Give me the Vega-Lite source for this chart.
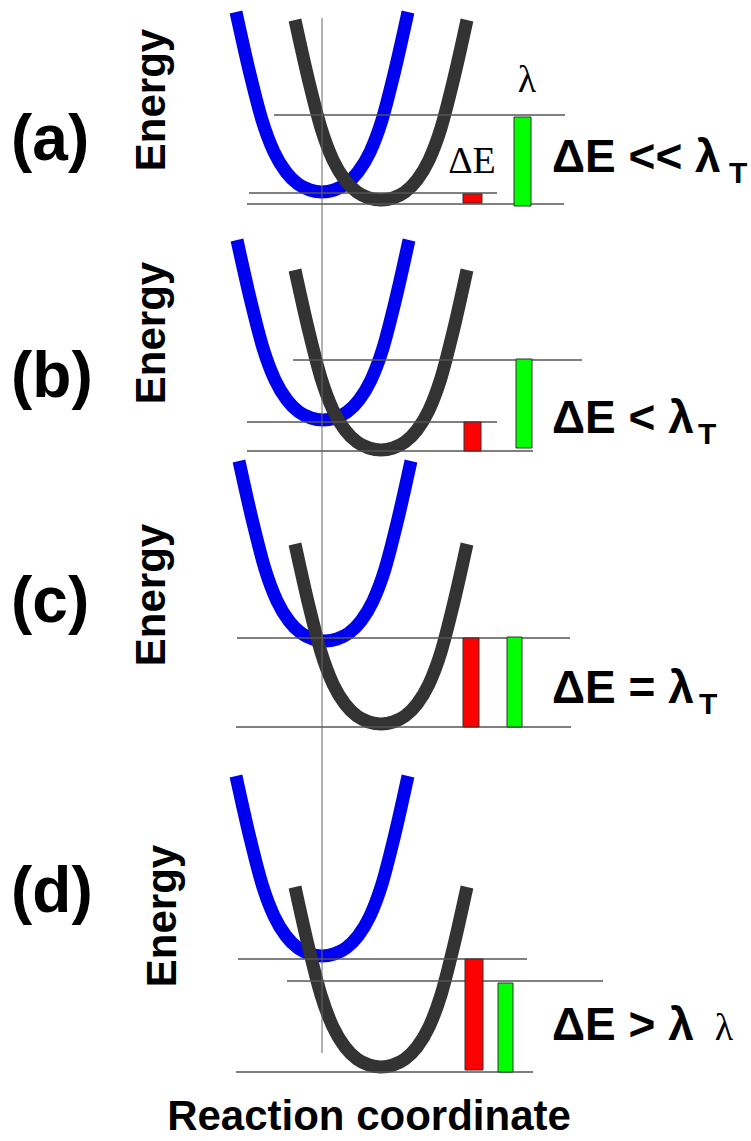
{
  "$schema": "https://vega.github.io/schema/vega-lite/v6.json",
  "width": 751,
  "height": 1141,
  "autosize": {"type": "none"},
  "padding": 0,
  "background": "white",
  "config": {"view": {"stroke": null}},
  "datasets": {
    "curves": [
      {"panel": "a", "surface": "initial", "x": 236, "y": 12},
      {"panel": "a", "surface": "initial", "x": 250, "y": 74},
      {"panel": "a", "surface": "initial", "x": 262, "y": 120},
      {"panel": "a", "surface": "initial", "x": 274, "y": 152},
      {"panel": "a", "surface": "initial", "x": 286, "y": 172},
      {"panel": "a", "surface": "initial", "x": 298, "y": 184},
      {"panel": "a", "surface": "initial", "x": 310, "y": 190},
      {"panel": "a", "surface": "initial", "x": 322, "y": 192},
      {"panel": "a", "surface": "initial", "x": 334, "y": 190},
      {"panel": "a", "surface": "initial", "x": 346, "y": 184},
      {"panel": "a", "surface": "initial", "x": 358, "y": 172},
      {"panel": "a", "surface": "initial", "x": 370, "y": 152},
      {"panel": "a", "surface": "initial", "x": 382, "y": 120},
      {"panel": "a", "surface": "initial", "x": 394, "y": 74},
      {"panel": "a", "surface": "initial", "x": 408, "y": 12},
      {"panel": "a", "surface": "final", "x": 295, "y": 20},
      {"panel": "a", "surface": "final", "x": 309, "y": 82},
      {"panel": "a", "surface": "final", "x": 321, "y": 128},
      {"panel": "a", "surface": "final", "x": 333, "y": 160},
      {"panel": "a", "surface": "final", "x": 345, "y": 180},
      {"panel": "a", "surface": "final", "x": 357, "y": 192},
      {"panel": "a", "surface": "final", "x": 369, "y": 198},
      {"panel": "a", "surface": "final", "x": 381, "y": 200},
      {"panel": "a", "surface": "final", "x": 393, "y": 198},
      {"panel": "a", "surface": "final", "x": 405, "y": 192},
      {"panel": "a", "surface": "final", "x": 417, "y": 180},
      {"panel": "a", "surface": "final", "x": 429, "y": 160},
      {"panel": "a", "surface": "final", "x": 441, "y": 128},
      {"panel": "a", "surface": "final", "x": 453, "y": 82},
      {"panel": "a", "surface": "final", "x": 467, "y": 20},
      {"panel": "b", "surface": "initial", "x": 237, "y": 240},
      {"panel": "b", "surface": "initial", "x": 251, "y": 302},
      {"panel": "b", "surface": "initial", "x": 263, "y": 348},
      {"panel": "b", "surface": "initial", "x": 275, "y": 380},
      {"panel": "b", "surface": "initial", "x": 287, "y": 400},
      {"panel": "b", "surface": "initial", "x": 299, "y": 412},
      {"panel": "b", "surface": "initial", "x": 311, "y": 418},
      {"panel": "b", "surface": "initial", "x": 323, "y": 420},
      {"panel": "b", "surface": "initial", "x": 335, "y": 418},
      {"panel": "b", "surface": "initial", "x": 347, "y": 412},
      {"panel": "b", "surface": "initial", "x": 359, "y": 400},
      {"panel": "b", "surface": "initial", "x": 371, "y": 380},
      {"panel": "b", "surface": "initial", "x": 383, "y": 348},
      {"panel": "b", "surface": "initial", "x": 395, "y": 302},
      {"panel": "b", "surface": "initial", "x": 409, "y": 240},
      {"panel": "b", "surface": "final", "x": 295, "y": 270},
      {"panel": "b", "surface": "final", "x": 309, "y": 332},
      {"panel": "b", "surface": "final", "x": 321, "y": 378},
      {"panel": "b", "surface": "final", "x": 333, "y": 410},
      {"panel": "b", "surface": "final", "x": 345, "y": 430},
      {"panel": "b", "surface": "final", "x": 357, "y": 442},
      {"panel": "b", "surface": "final", "x": 369, "y": 448},
      {"panel": "b", "surface": "final", "x": 381, "y": 450},
      {"panel": "b", "surface": "final", "x": 393, "y": 448},
      {"panel": "b", "surface": "final", "x": 405, "y": 442},
      {"panel": "b", "surface": "final", "x": 417, "y": 430},
      {"panel": "b", "surface": "final", "x": 429, "y": 410},
      {"panel": "b", "surface": "final", "x": 441, "y": 378},
      {"panel": "b", "surface": "final", "x": 453, "y": 332},
      {"panel": "b", "surface": "final", "x": 467, "y": 270},
      {"panel": "c", "surface": "initial", "x": 239, "y": 461},
      {"panel": "c", "surface": "initial", "x": 253, "y": 523},
      {"panel": "c", "surface": "initial", "x": 265, "y": 569},
      {"panel": "c", "surface": "initial", "x": 277, "y": 601},
      {"panel": "c", "surface": "initial", "x": 289, "y": 621},
      {"panel": "c", "surface": "initial", "x": 301, "y": 633},
      {"panel": "c", "surface": "initial", "x": 313, "y": 639},
      {"panel": "c", "surface": "initial", "x": 325, "y": 641},
      {"panel": "c", "surface": "initial", "x": 337, "y": 639},
      {"panel": "c", "surface": "initial", "x": 349, "y": 633},
      {"panel": "c", "surface": "initial", "x": 361, "y": 621},
      {"panel": "c", "surface": "initial", "x": 373, "y": 601},
      {"panel": "c", "surface": "initial", "x": 385, "y": 569},
      {"panel": "c", "surface": "initial", "x": 397, "y": 523},
      {"panel": "c", "surface": "initial", "x": 411, "y": 461},
      {"panel": "c", "surface": "final", "x": 295, "y": 544},
      {"panel": "c", "surface": "final", "x": 309, "y": 606},
      {"panel": "c", "surface": "final", "x": 321, "y": 652},
      {"panel": "c", "surface": "final", "x": 333, "y": 684},
      {"panel": "c", "surface": "final", "x": 345, "y": 704},
      {"panel": "c", "surface": "final", "x": 357, "y": 716},
      {"panel": "c", "surface": "final", "x": 369, "y": 722},
      {"panel": "c", "surface": "final", "x": 381, "y": 724},
      {"panel": "c", "surface": "final", "x": 393, "y": 722},
      {"panel": "c", "surface": "final", "x": 405, "y": 716},
      {"panel": "c", "surface": "final", "x": 417, "y": 704},
      {"panel": "c", "surface": "final", "x": 429, "y": 684},
      {"panel": "c", "surface": "final", "x": 441, "y": 652},
      {"panel": "c", "surface": "final", "x": 453, "y": 606},
      {"panel": "c", "surface": "final", "x": 467, "y": 544},
      {"panel": "d", "surface": "initial", "x": 236, "y": 776},
      {"panel": "d", "surface": "initial", "x": 250, "y": 838},
      {"panel": "d", "surface": "initial", "x": 262, "y": 884},
      {"panel": "d", "surface": "initial", "x": 274, "y": 916},
      {"panel": "d", "surface": "initial", "x": 286, "y": 936},
      {"panel": "d", "surface": "initial", "x": 298, "y": 948},
      {"panel": "d", "surface": "initial", "x": 310, "y": 954},
      {"panel": "d", "surface": "initial", "x": 322, "y": 956},
      {"panel": "d", "surface": "initial", "x": 334, "y": 954},
      {"panel": "d", "surface": "initial", "x": 346, "y": 948},
      {"panel": "d", "surface": "initial", "x": 358, "y": 936},
      {"panel": "d", "surface": "initial", "x": 370, "y": 916},
      {"panel": "d", "surface": "initial", "x": 382, "y": 884},
      {"panel": "d", "surface": "initial", "x": 394, "y": 838},
      {"panel": "d", "surface": "initial", "x": 408, "y": 776},
      {"panel": "d", "surface": "final", "x": 295, "y": 887},
      {"panel": "d", "surface": "final", "x": 309, "y": 949},
      {"panel": "d", "surface": "final", "x": 321, "y": 995},
      {"panel": "d", "surface": "final", "x": 333, "y": 1027},
      {"panel": "d", "surface": "final", "x": 345, "y": 1047},
      {"panel": "d", "surface": "final", "x": 357, "y": 1059},
      {"panel": "d", "surface": "final", "x": 369, "y": 1065},
      {"panel": "d", "surface": "final", "x": 381, "y": 1067},
      {"panel": "d", "surface": "final", "x": 393, "y": 1065},
      {"panel": "d", "surface": "final", "x": 405, "y": 1059},
      {"panel": "d", "surface": "final", "x": 417, "y": 1047},
      {"panel": "d", "surface": "final", "x": 429, "y": 1027},
      {"panel": "d", "surface": "final", "x": 441, "y": 995},
      {"panel": "d", "surface": "final", "x": 453, "y": 949},
      {"panel": "d", "surface": "final", "x": 467, "y": 887}
    ],
    "levels": [
      {"panel": "a", "x": 274, "x2": 565, "y": 115},
      {"panel": "a", "x": 249, "x2": 497, "y": 193},
      {"panel": "a", "x": 247, "x2": 564, "y": 204},
      {"panel": "b", "x": 293, "x2": 582, "y": 360},
      {"panel": "b", "x": 247, "x2": 497, "y": 422},
      {"panel": "b", "x": 247, "x2": 533, "y": 451},
      {"panel": "c", "x": 237, "x2": 570, "y": 638},
      {"panel": "c", "x": 236, "x2": 571, "y": 727},
      {"panel": "d", "x": 238, "x2": 527, "y": 959},
      {"panel": "d", "x": 287, "x2": 603, "y": 981},
      {"panel": "d", "x": 236, "x2": 533, "y": 1072}
    ],
    "bars": [
      {"panel": "a", "quantity": "dE", "x": 463, "x2": 482, "y": 194, "y2": 203},
      {"panel": "a", "quantity": "lambda", "x": 514, "x2": 531, "y": 117, "y2": 206},
      {"panel": "b", "quantity": "dE", "x": 464, "x2": 481, "y": 422, "y2": 451},
      {"panel": "b", "quantity": "lambda", "x": 516, "x2": 532, "y": 359, "y2": 448},
      {"panel": "c", "quantity": "dE", "x": 463, "x2": 479, "y": 638, "y2": 727},
      {"panel": "c", "quantity": "lambda", "x": 507, "x2": 522, "y": 637, "y2": 727},
      {"panel": "d", "quantity": "dE", "x": 465, "x2": 483, "y": 959, "y2": 1070},
      {"panel": "d", "quantity": "lambda", "x": 498, "x2": 513, "y": 983, "y2": 1072}
    ],
    "labels": [
      {"role": "panel", "text": "(a)", "x": 11, "y": 160},
      {"role": "panel", "text": "(b)", "x": 11, "y": 397},
      {"role": "panel", "text": "(c)", "x": 11, "y": 622},
      {"role": "panel", "text": "(d)", "x": 11, "y": 912},
      {"role": "energy", "text": "Energy", "x": 152, "y": 100},
      {"role": "energy", "text": "Energy", "x": 152, "y": 333},
      {"role": "energy", "text": "Energy", "x": 152, "y": 595},
      {"role": "energy", "text": "Energy", "x": 163, "y": 916},
      {"role": "relation", "text": "ΔE << λ", "x": 552, "y": 172},
      {"role": "relation", "text": "ΔE < λ", "x": 552, "y": 433},
      {"role": "relation", "text": "ΔE = λ", "x": 552, "y": 703},
      {"role": "relation", "text": "ΔE > λ", "x": 552, "y": 1040},
      {"role": "sub", "text": "T", "x": 729, "y": 183},
      {"role": "sub", "text": "T", "x": 698, "y": 444},
      {"role": "sub", "text": "T", "x": 699, "y": 714},
      {"role": "serif", "text": "ΔE", "x": 472, "y": 173},
      {"role": "serif", "text": "λ", "x": 527, "y": 92},
      {"role": "serif", "text": "λ", "x": 724, "y": 1040},
      {"role": "axis", "text": "Reaction coordinate", "x": 369, "y": 1130}
    ]
  },
  "layer": [
    {
      "data": {"name": "curves"},
      "transform": [{"filter": "datum.surface === 'initial'"}],
      "mark": {"type": "line", "strokeWidth": 13, "interpolate": "monotone", "color": "#0000f0"},
      "encoding": {
        "x": {"field": "x", "type": "quantitative", "scale": {"domain": [0, 751], "nice": false, "zero": false}, "axis": null},
        "y": {"field": "y", "type": "quantitative", "scale": {"domain": [0, 1141], "nice": false, "reverse": true}, "axis": null},
        "detail": {"field": "panel"}
      }
    },
    {
      "data": {"name": "curves"},
      "transform": [{"filter": "datum.surface === 'final'"}],
      "mark": {"type": "line", "strokeWidth": 13, "interpolate": "monotone", "color": "#333333"},
      "encoding": {
        "x": {"field": "x", "type": "quantitative", "scale": {"domain": [0, 751], "nice": false, "zero": false}, "axis": null},
        "y": {"field": "y", "type": "quantitative", "scale": {"domain": [0, 1141], "nice": false, "reverse": true}, "axis": null},
        "detail": {"field": "panel"}
      }
    },
    {
      "data": {"name": "levels"},
      "mark": {"type": "rule", "color": "#555555", "strokeWidth": 1.4},
      "encoding": {
        "x": {"field": "x", "type": "quantitative", "scale": {"domain": [0, 751], "nice": false, "zero": false}, "axis": null},
        "x2": {"field": "x2"},
        "y": {"field": "y", "type": "quantitative", "scale": {"domain": [0, 1141], "nice": false, "reverse": true}, "axis": null}
      }
    },
    {
      "data": {"values": [{"x": 322, "y": 18, "y2": 1053}]},
      "mark": {"type": "rule", "color": "#666666", "strokeWidth": 1},
      "encoding": {
        "x": {"field": "x", "type": "quantitative", "scale": {"domain": [0, 751], "nice": false, "zero": false}, "axis": null},
        "y": {"field": "y", "type": "quantitative", "scale": {"domain": [0, 1141], "nice": false, "reverse": true}, "axis": null},
        "y2": {"field": "y2"}
      }
    },
    {
      "data": {"name": "bars"},
      "mark": {"type": "rect", "stroke": "#333333", "strokeWidth": 1},
      "encoding": {
        "x": {"field": "x", "type": "quantitative", "scale": {"domain": [0, 751], "nice": false, "zero": false}, "axis": null},
        "x2": {"field": "x2"},
        "y": {"field": "y", "type": "quantitative", "scale": {"domain": [0, 1141], "nice": false, "reverse": true}, "axis": null},
        "y2": {"field": "y2"},
        "fill": {"field": "quantity", "type": "nominal", "scale": {"domain": ["dE", "lambda"], "range": ["#ff0000", "#00ff00"]}, "legend": null}
      }
    },
    {
      "data": {"name": "labels"},
      "transform": [{"filter": "datum.role === 'panel'"}],
      "mark": {"type": "text", "font": "Liberation Sans", "fontWeight": "bold", "fontSize": 64, "align": "left", "baseline": "alphabetic", "color": "black"},
      "encoding": {
        "x": {"field": "x", "type": "quantitative", "scale": {"domain": [0, 751], "nice": false, "zero": false}, "axis": null},
        "y": {"field": "y", "type": "quantitative", "scale": {"domain": [0, 1141], "nice": false, "reverse": true}, "axis": null},
        "text": {"field": "text"}
      }
    },
    {
      "data": {"name": "labels"},
      "transform": [{"filter": "datum.role === 'energy'"}],
      "mark": {"type": "text", "font": "Liberation Sans", "fontWeight": "bold", "fontSize": 42, "angle": 270, "align": "center", "baseline": "middle", "color": "black"},
      "encoding": {
        "x": {"field": "x", "type": "quantitative", "scale": {"domain": [0, 751], "nice": false, "zero": false}, "axis": null},
        "y": {"field": "y", "type": "quantitative", "scale": {"domain": [0, 1141], "nice": false, "reverse": true}, "axis": null},
        "text": {"field": "text"}
      }
    },
    {
      "data": {"name": "labels"},
      "transform": [{"filter": "datum.role === 'relation'"}],
      "mark": {"type": "text", "font": "Liberation Sans", "fontWeight": "bold", "fontSize": 46, "align": "left", "baseline": "alphabetic", "color": "black"},
      "encoding": {
        "x": {"field": "x", "type": "quantitative", "scale": {"domain": [0, 751], "nice": false, "zero": false}, "axis": null},
        "y": {"field": "y", "type": "quantitative", "scale": {"domain": [0, 1141], "nice": false, "reverse": true}, "axis": null},
        "text": {"field": "text"}
      }
    },
    {
      "data": {"name": "labels"},
      "transform": [{"filter": "datum.role === 'sub'"}],
      "mark": {"type": "text", "font": "Liberation Sans", "fontWeight": "bold", "fontSize": 30, "align": "left", "baseline": "alphabetic", "color": "black"},
      "encoding": {
        "x": {"field": "x", "type": "quantitative", "scale": {"domain": [0, 751], "nice": false, "zero": false}, "axis": null},
        "y": {"field": "y", "type": "quantitative", "scale": {"domain": [0, 1141], "nice": false, "reverse": true}, "axis": null},
        "text": {"field": "text"}
      }
    },
    {
      "data": {"name": "labels"},
      "transform": [{"filter": "datum.role === 'serif'"}],
      "mark": {"type": "text", "font": "Liberation Serif", "fontSize": 38, "align": "center", "baseline": "alphabetic", "color": "black"},
      "encoding": {
        "x": {"field": "x", "type": "quantitative", "scale": {"domain": [0, 751], "nice": false, "zero": false}, "axis": null},
        "y": {"field": "y", "type": "quantitative", "scale": {"domain": [0, 1141], "nice": false, "reverse": true}, "axis": null},
        "text": {"field": "text"}
      }
    },
    {
      "data": {"name": "labels"},
      "transform": [{"filter": "datum.role === 'axis'"}],
      "mark": {"type": "text", "font": "Liberation Sans", "fontWeight": "bold", "fontSize": 42, "align": "center", "baseline": "alphabetic", "color": "black"},
      "encoding": {
        "x": {"field": "x", "type": "quantitative", "scale": {"domain": [0, 751], "nice": false, "zero": false}, "axis": null},
        "y": {"field": "y", "type": "quantitative", "scale": {"domain": [0, 1141], "nice": false, "reverse": true}, "axis": null},
        "text": {"field": "text"}
      }
    }
  ]
}
